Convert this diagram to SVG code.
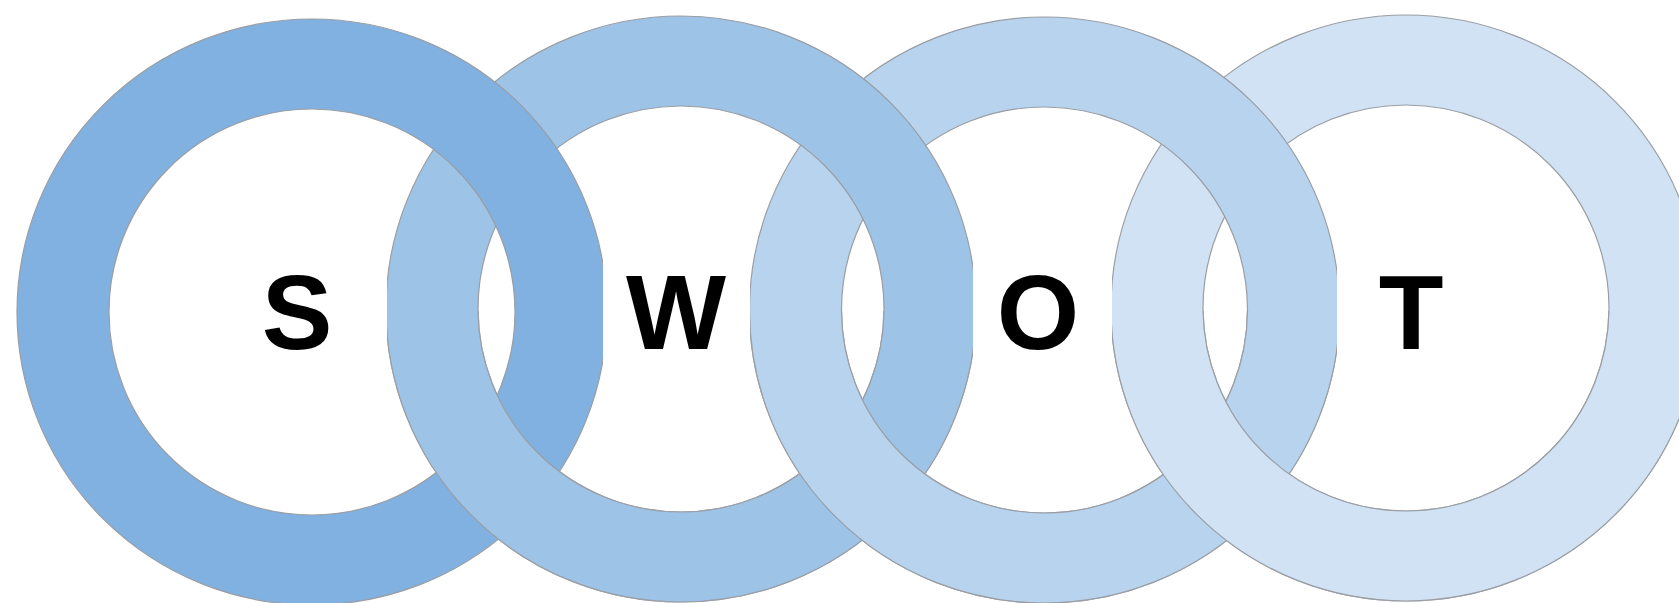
<svg xmlns="http://www.w3.org/2000/svg" xmlns:xlink="http://www.w3.org/1999/xlink" width="1679" height="603" viewBox="0 0 1679 603">
  <style>
    .band { fill-rule: evenodd; stroke: #9a9ea4; stroke-width: 1.2; }
    .r1 { fill: #80b1e0; }
    .r2 { fill: #9dc3e7; }
    .r3 { fill: #b7d3ee; }
    .r4 { fill: #d0e2f3; }
    .box { fill: #ffffff; }
    .lbl { font-family: "Liberation Sans", Arial, sans-serif; font-weight: bold; font-size: 106px; fill: #000000; text-anchor: middle; }
  </style>
  <defs>
    <path id="ring" d="M-295,0 a295,293 0 1,0 590,0 a295,293 0 1,0 -590,0 Z M-203,0 a203,203 0 1,0 406,0 a203,203 0 1,0 -406,0 Z"/>
    <clipPath id="lower" clipPathUnits="userSpaceOnUse">
      <rect x="0" y="311" width="1679" height="300"/>
    </clipPath>
  </defs>
  <rect width="1679" height="603" fill="#ffffff"/>

  <!-- base layers: left ring on top of right ring -->
  <g id="ring-T"><use xlink:href="#ring" href="#ring" class="band r4" transform="translate(1406,308)"/></g>
  <g id="ring-O"><use xlink:href="#ring" href="#ring" class="band r3" transform="translate(1044.5,310)"/></g>
  <g id="ring-W"><use xlink:href="#ring" href="#ring" class="band r2" transform="translate(681,309)"/></g>
  <g id="ring-S"><use xlink:href="#ring" href="#ring" class="band r1" transform="translate(312,312)"/></g>

  <!-- lower halves: right ring passes over left ring -->
  <g id="ring-W-lower" clip-path="url(#lower)"><use xlink:href="#ring" href="#ring" class="band r2" transform="translate(681,309)"/></g>
  <g id="ring-O-lower" clip-path="url(#lower)"><use xlink:href="#ring" href="#ring" class="band r3" transform="translate(1044.5,310)"/></g>
  <g id="ring-T-lower" clip-path="url(#lower)"><use xlink:href="#ring" href="#ring" class="band r4" transform="translate(1406,308)"/></g>

  <!-- letters -->
  <g id="node-S"><rect class="box" x="220" y="250" width="167" height="122"/><text class="lbl" x="297" y="349">S</text></g>
  <g id="node-W"><rect class="box" x="603" y="250" width="147" height="122"/><text class="lbl" x="676" y="349">W</text></g>
  <g id="node-O"><rect class="box" x="973" y="250" width="139" height="122"/><text class="lbl" x="1038" y="349">O</text></g>
  <g id="node-T"><rect class="box" x="1337" y="250" width="148" height="122"/><text class="lbl" x="1411" y="349">T</text></g>
</svg>
